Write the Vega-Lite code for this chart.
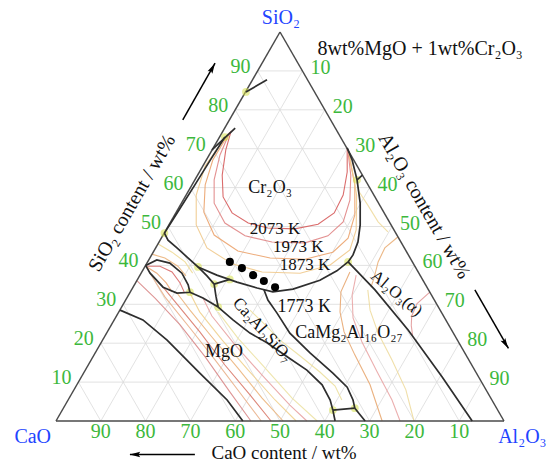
{
"$schema": "https://vega.github.io/schema/vega-lite/v6.json",
"width": 448, "height": 389,
"autosize": {"type": "none"},
"padding": {"left": 56, "top": 32, "right": 51, "bottom": 42},
"background": "white",
"config": {"view": {"stroke": null}, "font": "Liberation Serif"},
"encoding": {
  "x": {"field": "x", "type": "quantitative", "scale": {"domain": [0, 100], "nice": false, "zero": false}, "axis": null},
  "y": {"field": "y", "type": "quantitative", "scale": {"domain": [0, 100], "nice": false, "zero": false}, "axis": null}
},
"layer": [
{
  "data": {"values": [
    {"x":5,"y":10,"x2":95,"y2":10},{"x":10,"y":20,"x2":90,"y2":20},{"x":15,"y":30,"x2":85,"y2":30},{"x":20,"y":40,"x2":80,"y2":40},{"x":25,"y":50,"x2":75,"y2":50},{"x":30,"y":60,"x2":70,"y2":60},{"x":35,"y":70,"x2":65,"y2":70},{"x":40,"y":80,"x2":60,"y2":80},{"x":45,"y":90,"x2":55,"y2":90},
    {"x":10,"y":0,"x2":55,"y2":90},{"x":20,"y":0,"x2":60,"y2":80},{"x":30,"y":0,"x2":65,"y2":70},{"x":40,"y":0,"x2":70,"y2":60},{"x":50,"y":0,"x2":75,"y2":50},{"x":60,"y":0,"x2":80,"y2":40},{"x":70,"y":0,"x2":85,"y2":30},{"x":80,"y":0,"x2":90,"y2":20},{"x":90,"y":0,"x2":95,"y2":10},
    {"x":90,"y":0,"x2":45,"y2":90},{"x":80,"y":0,"x2":40,"y2":80},{"x":70,"y":0,"x2":35,"y2":70},{"x":60,"y":0,"x2":30,"y2":60},{"x":50,"y":0,"x2":25,"y2":50},{"x":40,"y":0,"x2":20,"y2":40},{"x":30,"y":0,"x2":15,"y2":30},{"x":20,"y":0,"x2":10,"y2":20},{"x":10,"y":0,"x2":5,"y2":10}
  ]},
  "mark": {"type": "rule", "color": "#dadada", "strokeWidth": 0.8},
  "encoding": {"x2": {"field": "x2"}, "y2": {"field": "y2"}}
},
{
  "data": {"values": [
    {"c":"U1","i":0,"x":39.1,"y":74.6},{"c":"U1","i":1,"x":37.9,"y":69.7},{"c":"U1","i":2,"x":37.1,"y":63.2},{"c":"U1","i":3,"x":37.3,"y":57.6},{"c":"U1","i":4,"x":39.3,"y":53.5},{"c":"U1","i":5,"x":42.9,"y":50.9},{"c":"U1","i":6,"x":47.3,"y":49.6},{"c":"U1","i":7,"x":53.3,"y":49.4},{"c":"U1","i":8,"x":58.5,"y":50.6},{"c":"U1","i":9,"x":62.1,"y":53.5},{"c":"U1","i":10,"x":64.1,"y":58.1},{"c":"U1","i":11,"x":65.0,"y":64.0},{"c":"U1","i":12,"x":65.0,"y":70.1},
    {"c":"U2","i":0,"x":38.8,"y":74.3},{"c":"U2","i":1,"x":36.6,"y":68.4},{"c":"U2","i":2,"x":35.3,"y":62.0},{"c":"U2","i":3,"x":35.3,"y":56.0},{"c":"U2","i":4,"x":37.7,"y":50.9},{"c":"U2","i":5,"x":42.2,"y":47.6},{"c":"U2","i":6,"x":48.2,"y":46.0},{"c":"U2","i":7,"x":55.6,"y":45.8},{"c":"U2","i":8,"x":60.7,"y":47.6},{"c":"U2","i":9,"x":64.1,"y":51.2},{"c":"U2","i":10,"x":65.6,"y":56.8},{"c":"U2","i":11,"x":65.8,"y":63.2},{"c":"U2","i":12,"x":65.1,"y":70.0},
    {"c":"U3","i":0,"x":38.6,"y":74.0},{"c":"U3","i":1,"x":35.0,"y":67.1},{"c":"U3","i":2,"x":33.3,"y":60.7},{"c":"U3","i":3,"x":33.0,"y":53.7},{"c":"U3","i":4,"x":35.3,"y":47.8},{"c":"U3","i":5,"x":40.6,"y":43.7},{"c":"U3","i":6,"x":47.8,"y":41.9},{"c":"U3","i":7,"x":55.6,"y":41.6},{"c":"U3","i":8,"x":61.8,"y":43.4},{"c":"U3","i":9,"x":65.2,"y":47.0},{"c":"U3","i":10,"x":66.7,"y":53.0},{"c":"U3","i":11,"x":66.7,"y":60.7},{"c":"U3","i":12,"x":65.2,"y":69.6},
    {"c":"U4","i":0,"x":38.4,"y":73.8},{"c":"U4","i":1,"x":33.3,"y":65.6},{"c":"U4","i":2,"x":31.3,"y":58.1},{"c":"U4","i":3,"x":31.3,"y":50.4},{"c":"U4","i":4,"x":33.7,"y":44.5},{"c":"U4","i":5,"x":39.3,"y":40.4},{"c":"U4","i":6,"x":46.0,"y":38.3},{"c":"U4","i":7,"x":54.5,"y":38.0},{"c":"U4","i":8,"x":61.2,"y":40.1},{"c":"U4","i":9,"x":65.6,"y":44.0},{"c":"U4","i":10,"x":67.0,"y":49.1},{"c":"U4","i":11,"x":67.1,"y":58.1},{"c":"U4","i":12,"x":65.4,"y":69.0},
    {"c":"m1","i":0,"x":18.1,"y":36.0},{"c":"m1","i":1,"x":22.1,"y":31.6},{"c":"m1","i":2,"x":27.7,"y":24.7},{"c":"m1","i":3,"x":33.3,"y":16.5},{"c":"m1","i":4,"x":38.8,"y":7.5},{"c":"m1","i":5,"x":43.5,"y":0},
    {"c":"m2","i":0,"x":21.0,"y":38.0},{"c":"m2","i":1,"x":24.3,"y":31.9},{"c":"m2","i":2,"x":29.9,"y":23.9},{"c":"m2","i":3,"x":35.5,"y":15.7},{"c":"m2","i":4,"x":41.1,"y":7.2},{"c":"m2","i":5,"x":45.8,"y":0},
    {"c":"m3","i":0,"x":23.9,"y":34.4},{"c":"m3","i":1,"x":27.2,"y":29.8},{"c":"m3","i":2,"x":32.1,"y":22.9},{"c":"m3","i":3,"x":37.7,"y":14.4},{"c":"m3","i":4,"x":43.3,"y":6.7},{"c":"m3","i":5,"x":48.0,"y":0},
    {"c":"m4","i":0,"x":27.0,"y":32.9},{"c":"m4","i":1,"x":29.9,"y":28.5},{"c":"m4","i":2,"x":34.8,"y":21.6},{"c":"m4","i":3,"x":40.6,"y":13.6},{"c":"m4","i":4,"x":46.0,"y":5.9},{"c":"m4","i":5,"x":50.7,"y":0},
    {"c":"m5","i":0,"x":29.9,"y":32.9},{"c":"m5","i":1,"x":32.1,"y":28.0},{"c":"m5","i":2,"x":37.1,"y":20.8},{"c":"m5","i":3,"x":42.9,"y":13.1},{"c":"m5","i":4,"x":48.9,"y":5.4},{"c":"m5","i":5,"x":53.6,"y":0},
    {"c":"m6","i":0,"x":32.8,"y":31.6},{"c":"m6","i":1,"x":34.8,"y":27.0},{"c":"m6","i":2,"x":40.0,"y":19.5},{"c":"m6","i":3,"x":46.0,"y":11.8},{"c":"m6","i":4,"x":52.2,"y":4.1},{"c":"m6","i":5,"x":56.0,"y":0},
    {"c":"m7","i":0,"x":36.2,"y":28.0},{"c":"m7","i":1,"x":40.6,"y":21.3},{"c":"m7","i":2,"x":46.7,"y":13.6},{"c":"m7","i":3,"x":52.7,"y":5.9},{"c":"m7","i":4,"x":58.3,"y":0},
    {"c":"lA","i":0,"x":20.3,"y":39.8},{"c":"lA","i":1,"x":23.2,"y":39.8},{"c":"lA","i":2,"x":25.9,"y":38.3},{"c":"lA","i":3,"x":27.7,"y":35.5},{"c":"lA","i":4,"x":28.6,"y":33.2},
    {"c":"lB","i":0,"x":20.3,"y":39.6},{"c":"lB","i":1,"x":22.5,"y":38.0},{"c":"lB","i":2,"x":24.6,"y":35.5},{"c":"lB","i":3,"x":25.9,"y":33.2},
    {"c":"p1","i":0,"x":22.8,"y":45.5},{"c":"p1","i":1,"x":25.9,"y":43.4},{"c":"p1","i":2,"x":28.8,"y":40.9},{"c":"p1","i":3,"x":30.5,"y":38.0},
    {"c":"p2","i":0,"x":21.4,"y":42.9},{"c":"p2","i":1,"x":24.3,"y":41.9},{"c":"p2","i":2,"x":27.2,"y":39.8},{"c":"p2","i":3,"x":29.0,"y":37.3},
    {"c":"c1","i":0,"x":43.3,"y":28.5},{"c":"c1","i":1,"x":46.7,"y":24.7},{"c":"c1","i":2,"x":50.0,"y":20.8},{"c":"c1","i":3,"x":54.5,"y":16.7},{"c":"c1","i":4,"x":58.9,"y":12.6},{"c":"c1","i":5,"x":62.3,"y":9.0},{"c":"c1","i":6,"x":63.8,"y":5.4},
    {"c":"k1","i":0,"x":65.6,"y":38.3},{"c":"k1","i":1,"x":63.6,"y":33.2},{"c":"k1","i":2,"x":63.4,"y":28.0},{"c":"k1","i":3,"x":64.3,"y":22.9},{"c":"k1","i":4,"x":66.7,"y":17.0},{"c":"k1","i":5,"x":70.1,"y":9.3},{"c":"k1","i":6,"x":72.8,"y":0},
    {"c":"k2","i":0,"x":67.0,"y":37.5},{"c":"k2","i":1,"x":66.1,"y":32.4},{"c":"k2","i":2,"x":66.3,"y":26.5},{"c":"k2","i":3,"x":68.3,"y":20.3},{"c":"k2","i":4,"x":71.7,"y":12.6},{"c":"k2","i":5,"x":75.0,"y":5.4},{"c":"k2","i":6,"x":76.8,"y":0},
    {"c":"k3","i":0,"x":69.6,"y":33.7},{"c":"k3","i":1,"x":70.1,"y":28.5},{"c":"k3","i":2,"x":71.9,"y":22.6},{"c":"k3","i":3,"x":75.0,"y":15.7},{"c":"k3","i":4,"x":78.1,"y":8.0},{"c":"k3","i":5,"x":79.9,"y":0},
    {"c":"a1","i":0,"x":83.5,"y":33.2},{"c":"a1","i":1,"x":80.6,"y":30.2},{"c":"a1","i":2,"x":79.4,"y":27.0},{"c":"a1","i":3,"x":79.3,"y":24.5},{"c":"a1","i":4,"x":79.6,"y":22.0},
    {"c":"a2","i":0,"x":76.3,"y":47.3},{"c":"a2","i":1,"x":73.4,"y":44.5},{"c":"a2","i":2,"x":71.9,"y":40.9},{"c":"a2","i":3,"x":71.0,"y":36.8},{"c":"a2","i":4,"x":70.3,"y":34.4},
    {"c":"r1","i":0,"x":67.4,"y":59.4},{"c":"r1","i":1,"x":69.6,"y":55.5},{"c":"r1","i":2,"x":71.9,"y":51.2},{"c":"r1","i":3,"x":74.1,"y":48.6}
  ]},
  "mark": {"type": "line", "strokeWidth": 1.1, "opacity": 0.9},
  "encoding": {
    "color": {"field": "c", "type": "nominal", "legend": null, "scale": {
      "domain": ["U1","U2","U3","U4","m1","m2","m3","m4","m5","m6","m7","lA","lB","p1","p2","c1","k1","k2","k3","a1","a2","r1"],
      "range": ["#d65c5c","#e08585","#eba36d","#f0c98c","#d98a8a","#e9b08a","#d97a6a","#ebb57d","#efd08f","#e8a3a3","#ece2a4","#d96a6a","#eaa777","#efdc98","#ebb57d","#ece0a0","#e8a872","#e9a6a6","#eedca0","#e29a9a","#eab07a","#efdca0"]}},
    "order": {"field": "i", "type": "quantitative"}
  }
},
{
  "data": {"values": [
    {"x":0,"y":0,"x2":100,"y2":0},{"x":100,"y":0,"x2":50,"y2":100},{"x":50,"y":100,"x2":0,"y2":0}
  ]},
  "mark": {"type": "rule", "color": "#4a4a4a", "strokeWidth": 1.5},
  "encoding": {"x2": {"field": "x2"}, "y2": {"field": "y2"}}
},
{
  "data": {"values": [
    {"x":24.2,"y":48.3},{"x":29.9,"y":33.1},{"x":35.3,"y":35.2},{"x":31.7,"y":39.6},{"x":36.2,"y":29.3},{"x":65.2,"y":40.9},{"x":61.8,"y":2.8},{"x":66.7,"y":3.3},{"x":37.7,"y":73.0},{"x":67.2,"y":62.0},{"x":38.8,"y":36.4},{"x":42.4,"y":84.6}
  ]},
  "mark": {"type": "point", "filled": true, "color": "#d6e04a", "opacity": 0.55, "size": 60}
},
{
  "data": {"values": [
    {"s":"crL","i":0,"x":37.7,"y":73.0},{"s":"crL","i":1,"x":34.4,"y":67.0},{"s":"crL","i":2,"x":31.0,"y":60.7},{"s":"crL","i":3,"x":27.6,"y":54.5},{"s":"crL","i":4,"x":24.2,"y":48.3},
    {"s":"tl1","i":0,"x":34.8,"y":69.7},{"s":"tl1","i":1,"x":40.0,"y":75.3},
    {"s":"tl2","i":0,"x":42.4,"y":84.6},{"s":"tl2","i":1,"x":47.1,"y":87.7},
    {"s":"crR","i":0,"x":65.0,"y":70.2},{"s":"crR","i":1,"x":66.1,"y":67.1},{"s":"crR","i":2,"x":67.2,"y":62.0},{"s":"crR","i":3,"x":67.9,"y":56.0},{"s":"crR","i":4,"x":67.9,"y":50.4},{"s":"crR","i":5,"x":67.4,"y":46.0},{"s":"crR","i":6,"x":66.3,"y":42.7},{"s":"crR","i":7,"x":65.2,"y":40.9},
    {"s":"r1","i":0,"x":67.2,"y":62.0},{"s":"r1","i":1,"x":68.4,"y":63.2},
    {"s":"A","i":0,"x":24.2,"y":48.3},{"s":"A","i":1,"x":25.0,"y":46.5},{"s":"A","i":2,"x":27.0,"y":44.5},{"s":"A","i":3,"x":29.2,"y":42.2},{"s":"A","i":4,"x":31.7,"y":39.6},{"s":"A","i":5,"x":35.9,"y":37.5},{"s":"A","i":6,"x":40.4,"y":35.7},{"s":"A","i":7,"x":44.9,"y":34.2},{"s":"A","i":8,"x":48.4,"y":33.2},{"s":"A","i":9,"x":52.9,"y":33.9},{"s":"A","i":10,"x":58.9,"y":36.2},{"s":"A","i":11,"x":62.7,"y":38.6},{"s":"A","i":12,"x":65.2,"y":40.9},
    {"s":"lens","i":0,"x":20.0,"y":40.0},{"s":"lens","i":1,"x":22.5,"y":41.4},{"s":"lens","i":2,"x":25.4,"y":40.6},{"s":"lens","i":3,"x":28.1,"y":38.0},{"s":"lens","i":4,"x":29.5,"y":35.0},{"s":"lens","i":5,"x":29.9,"y":33.1},{"s":"lens","i":6,"x":27.0,"y":32.9},{"s":"lens","i":7,"x":23.9,"y":34.4},{"s":"lens","i":8,"x":21.0,"y":38.0},{"s":"lens","i":9,"x":20.0,"y":40.0},
    {"s":"j1j4","i":0,"x":29.9,"y":33.1},{"s":"j1j4","i":1,"x":32.8,"y":31.6},{"s":"j1j4","i":2,"x":36.2,"y":29.3},
    {"s":"j3j2","i":0,"x":31.7,"y":39.6},{"s":"j3j2","i":1,"x":33.7,"y":37.3},{"s":"j3j2","i":2,"x":35.3,"y":35.2},
    {"s":"j2j4","i":0,"x":35.3,"y":35.2},{"s":"j2j4","i":1,"x":35.7,"y":32.1},{"s":"j2j4","i":2,"x":36.2,"y":29.3},
    {"s":"j2a","i":0,"x":35.3,"y":35.2},{"s":"j2a","i":1,"x":38.8,"y":36.4},
    {"s":"L1","i":0,"x":36.2,"y":29.3},{"s":"L1","i":1,"x":39.5,"y":26.0},{"s":"L1","i":2,"x":43.3,"y":22.6},{"s":"L1","i":3,"x":47.1,"y":20.1},{"s":"L1","i":4,"x":51.6,"y":16.5},{"s":"L1","i":5,"x":56.0,"y":13.1},{"s":"L1","i":6,"x":59.4,"y":9.3},{"s":"L1","i":7,"x":61.2,"y":5.4},{"s":"L1","i":8,"x":61.8,"y":2.8},
    {"s":"L2","i":0,"x":46.4,"y":33.8},{"s":"L2","i":1,"x":47.3,"y":31.1},{"s":"L2","i":2,"x":49.3,"y":27.8},{"s":"L2","i":3,"x":52.2,"y":22.6},{"s":"L2","i":4,"x":56.7,"y":17.5},{"s":"L2","i":5,"x":61.8,"y":12.3},{"s":"L2","i":6,"x":65.0,"y":8.7},{"s":"L2","i":7,"x":66.3,"y":5.4},{"s":"L2","i":8,"x":66.7,"y":3.3},
    {"s":"b67","i":0,"x":61.8,"y":2.8},{"s":"b67","i":1,"x":66.7,"y":3.3},
    {"s":"b6","i":0,"x":61.8,"y":2.8},{"s":"b6","i":1,"x":62.3,"y":0},
    {"s":"b7","i":0,"x":66.7,"y":3.3},{"s":"b7","i":1,"x":69.0,"y":0},
    {"s":"al","i":0,"x":65.2,"y":40.9},{"s":"al","i":1,"x":71.2,"y":33.7},{"s":"al","i":2,"x":78.6,"y":23.4},{"s":"al","i":3,"x":86.2,"y":11.3},{"s":"al","i":4,"x":92.9,"y":0},
    {"s":"mgo","i":0,"x":14.3,"y":28.5},{"s":"mgo","i":1,"x":19.4,"y":26.0},{"s":"mgo","i":2,"x":24.8,"y":20.8},{"s":"mgo","i":3,"x":32.1,"y":12.3},{"s":"mgo","i":4,"x":38.2,"y":5.4},{"s":"mgo","i":5,"x":41.7,"y":0}
  ]},
  "mark": {"type": "line", "color": "#2e2e2e", "strokeWidth": 1.7},
  "encoding": {"detail": {"field": "s", "type": "nominal"}, "order": {"field": "i", "type": "quantitative"}}
},
{
  "data": {"values": [
    {"x":38.8,"y":40.9},{"x":41.5,"y":39.3},{"x":44.0,"y":37.5},{"x":46.4,"y":36.0},{"x":48.9,"y":34.4}
  ]},
  "mark": {"type": "point", "filled": true, "color": "#000000", "opacity": 1, "size": 65}
},
{
  "data": {"values": [
    {"x":5,"y":10,"t":"10"},{"x":10,"y":20,"t":"20"},{"x":15,"y":30,"t":"30"},{"x":20,"y":40,"t":"40"},{"x":25,"y":50,"t":"50"},{"x":30,"y":60,"t":"60"},{"x":35,"y":70,"t":"70"},{"x":40,"y":80,"t":"80"},{"x":45,"y":90,"t":"90"}
  ]},
  "mark": {"type": "text", "align": "right", "baseline": "middle", "dx": -7, "dy": -4, "fontSize": 20, "font": "Liberation Serif", "color": "#3cb83c"},
  "encoding": {"text": {"field": "t"}}
},
{
  "data": {"values": [
    {"x":55,"y":90,"t":"10"},{"x":60,"y":80,"t":"20"},{"x":65,"y":70,"t":"30"},{"x":70,"y":60,"t":"40"},{"x":75,"y":50,"t":"50"},{"x":80,"y":40,"t":"60"},{"x":85,"y":30,"t":"70"},{"x":90,"y":20,"t":"80"},{"x":95,"y":10,"t":"90"}
  ]},
  "mark": {"type": "text", "align": "left", "baseline": "middle", "dx": 8, "dy": -3, "fontSize": 20, "font": "Liberation Serif", "color": "#3cb83c"},
  "encoding": {"text": {"field": "t"}}
},
{
  "data": {"values": [
    {"x":10,"y":0,"t":"90"},{"x":20,"y":0,"t":"80"},{"x":30,"y":0,"t":"70"},{"x":40,"y":0,"t":"60"},{"x":50,"y":0,"t":"50"},{"x":60,"y":0,"t":"40"},{"x":70,"y":0,"t":"30"},{"x":80,"y":0,"t":"20"},{"x":90,"y":0,"t":"10"}
  ]},
  "mark": {"type": "text", "align": "center", "baseline": "middle", "dy": 11, "fontSize": 20, "font": "Liberation Serif", "color": "#3cb83c"},
  "encoding": {"text": {"field": "t"}}
},
{
  "data": {"values": [
    {"x":50.2,"y":103.7,"t":"SiO₂"},{"x":-5.2,"y":-4.0,"t":"CaO"},{"x":104.1,"y":-4.2,"t":"Al₂O₃"}
  ]},
  "mark": {"type": "text", "align": "center", "baseline": "middle", "fontSize": 20, "font": "Liberation Serif", "color": "#2244ff"},
  "encoding": {"text": {"field": "t"}}
},
{
  "data": {"values": [
    {"x":81.3,"y":95.6,"t":"8wt%MgO + 1wt%Cr₂O₃"}
  ]},
  "mark": {"type": "text", "align": "center", "baseline": "middle", "fontSize": 20, "font": "Liberation Serif", "color": "#111111"},
  "encoding": {"text": {"field": "t"}}
},
{
  "data": {"values": [
    {"x":50.9,"y":-8.1,"t":"CaO content / wt%"}
  ]},
  "mark": {"type": "text", "align": "center", "baseline": "middle", "fontSize": 19, "font": "Liberation Serif", "color": "#111111"},
  "encoding": {"text": {"field": "t"}}
},
{
  "data": {"values": [{"x":17.0,"y":56.0,"t":"SiO₂ content / wt%"}]},
  "mark": {"type": "text", "align": "center", "baseline": "middle", "angle": 300, "fontSize": 20, "font": "Liberation Serif", "color": "#111111"},
  "encoding": {"text": {"field": "t"}}
},
{
  "data": {"values": [{"x":82.2,"y":55.3,"t":"Al₂O₃ content / wt%"}]},
  "mark": {"type": "text", "align": "center", "baseline": "middle", "angle": 60, "fontSize": 20, "font": "Liberation Serif", "color": "#111111"},
  "encoding": {"text": {"field": "t"}}
},
{
  "data": {"values": [
    {"x":47.8,"y":59.9,"t":"Cr₂O₃"},{"x":55.4,"y":29.3,"t":"1773 K"},{"x":65.4,"y":22.6,"t":"CaMg₂Al₁₆O₂₇"},{"x":37.5,"y":17.7,"t":"MgO"}
  ]},
  "mark": {"type": "text", "align": "center", "baseline": "middle", "fontSize": 18, "font": "Liberation Serif", "color": "#111111"},
  "encoding": {"text": {"field": "t"}}
},
{
  "data": {"values": [
    {"x":48.9,"y":49.4,"t":"2073 K"},{"x":54.1,"y":44.7,"t":"1973 K"},{"x":55.6,"y":40.1,"t":"1873 K"}
  ]},
  "mark": {"type": "text", "align": "center", "baseline": "middle", "fontSize": 17, "font": "Liberation Serif", "color": "#111111"},
  "encoding": {"text": {"field": "t"}}
},
{
  "data": {"values": [{"x":46.1,"y":23.4,"t":"Ca₂Al₂SiO₇"}]},
  "mark": {"type": "text", "align": "center", "baseline": "middle", "angle": 48, "fontSize": 17, "font": "Liberation Serif", "color": "#111111"},
  "encoding": {"text": {"field": "t"}}
},
{
  "data": {"values": [{"x":76.0,"y":32.8,"t":"Al₂O₃(α)"}]},
  "mark": {"type": "text", "align": "center", "baseline": "middle", "angle": 40, "fontSize": 17, "font": "Liberation Serif", "color": "#111111"},
  "encoding": {"text": {"field": "t"}}
},
{
  "data": {"values": [
    {"x":28.3,"y":77.4,"x2":35.5,"y2":92.0},{"x":93.5,"y":33.7,"x2":101.0,"y2":18.7},{"x":31.0,"y":-8.6,"x2":16.5,"y2":-8.6}
  ]},
  "mark": {"type": "rule", "color": "#000000", "strokeWidth": 1.5},
  "encoding": {"x2": {"field": "x2"}, "y2": {"field": "y2"}}
},
{
  "data": {"values": [{"x":34.9,"y":90.7}]},
  "mark": {"type": "point", "filled": true, "color": "#000000", "opacity": 1, "size": 121, "angle": 29, "shape": "M0,-1L0.5,0.9L0,0.55L-0.5,0.9Z"}
},
{
  "data": {"values": [{"x":100.3,"y":19.9}]},
  "mark": {"type": "point", "filled": true, "color": "#000000", "opacity": 1, "size": 121, "angle": 150, "shape": "M0,-1L0.5,0.9L0,0.55L-0.5,0.9Z"}
},
{
  "data": {"values": [{"x":17.7,"y":-8.6}]},
  "mark": {"type": "point", "filled": true, "color": "#000000", "opacity": 1, "size": 121, "angle": 270, "shape": "M0,-1L0.5,0.9L0,0.55L-0.5,0.9Z"}
}
]
}
